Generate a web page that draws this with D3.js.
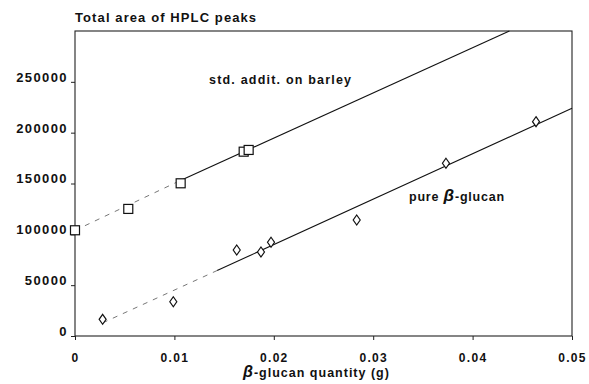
<!DOCTYPE html>
<head>
  <meta charset="utf-8">
  <script src="https://d3js.org/d3.v7.min.js"></script>
  <style>
    body { margin:0; background:#fff; }
    text { font-family: "Liberation Sans", Arial, sans-serif; font-weight: bold; fill: #111; }
  </style>
</head>

<body>
  <svg id="chart" width=589 height=384></svg>
  <script>
    // values
    const stdX = [0, 0.00536, 0.01063, 0.01697, 0.01747];
    const stdY = [104000, 125000, 150200, 181300, 183000];
    const pureX = [0.00278, 0.00989, 0.01627, 0.01871, 0.01972, 0.02834, 0.03732, 0.04638];
    const pureY = [16400, 33700, 84600, 82600, 92200, 114100, 169900, 210800];
    // fitted lines: [x, y] end points, faint (scanned) part first
    const stdFitFaint = [[0.001, 108500], [0.0105, 152500]];
    const stdFit = [[0.0105, 152500], [0.0437, 300000]];
    const pureFitFaint = [[0.0028, 13000], [0.0143, 64400]];
    const pureFit = [[0.0143, 64400], [0.05, 224000]];
    const xTicks = [0, 0.01, 0.02, 0.03, 0.04, 0.05];
    const yTicks = [0, 50000, 100000, 150000, 200000, 250000];

    const x = d3.scaleLinear().domain([0, 0.05]).range([75, 572]);
    const y = d3.scaleLinear().domain([0, 300000]).range([336, 31]);

    const svg = d3.select("#chart");

    // frame
    svg.append("rect")
      .attr("x", x(0)).attr("y", y(300000))
      .attr("width", x(0.05) - x(0)).attr("height", y(0) - y(300000))
      .attr("fill", "none").attr("stroke", "#222").attr("stroke-width", 1.1);

    // x axis
    const xAxis = svg.append("g")
      .attr("transform", `translate(0,${y(0)})`)
      .call(d3.axisBottom(x).tickValues(xTicks).tickSize(4).tickFormat(d => d === 0 ? "0" : d3.format(".2f")(d)));
    xAxis.select(".domain").remove();
    xAxis.selectAll("line").attr("stroke", "#222");
    xAxis.selectAll("text")
      .attr("dy", null).attr("y", 26)
      .style("font-size", "12px").style("letter-spacing", "1.3px")
      .style("font-family", "Liberation Sans, Arial, sans-serif").style("font-weight", "bold");

    // y axis
    const yAxis = svg.append("g")
      .attr("transform", `translate(${x(0)},0)`)
      .call(d3.axisLeft(y).tickValues(yTicks).tickSize(4).tickFormat(d3.format("d")));
    yAxis.select(".domain").remove();
    yAxis.selectAll("line").attr("stroke", "#222");
    yAxis.selectAll("text")
      .attr("x", -7).attr("dy", "-0.05em")
      .style("font-size", "13px").style("letter-spacing", "1.4px")
      .style("font-family", "Liberation Sans, Arial, sans-serif").style("font-weight", "bold");

    // fit lines
    const line = d3.line().x(d => x(d[0])).y(d => y(d[1]));
    [stdFitFaint, pureFitFaint].forEach(seg => {
      svg.append("path").attr("d", line(seg))
        .attr("fill", "none").attr("stroke", "#777").attr("stroke-width", 1)
        .attr("stroke-dasharray", "5,6");
    });
    [stdFit, pureFit].forEach(seg => {
      svg.append("path").attr("d", line(seg))
        .attr("fill", "none").attr("stroke", "#111").attr("stroke-width", 1.1);
    });

    // squares: std. addition on barley
    svg.append("g").selectAll("rect")
      .data(d3.zip(stdX, stdY))
      .join("rect")
      .attr("x", d => x(d[0]) - 4.5).attr("y", d => y(d[1]) - 4.5)
      .attr("width", 9).attr("height", 9)
      .attr("fill", "#fff").attr("stroke", "#111").attr("stroke-width", 1.2);

    // diamonds: pure beta-glucan
    svg.append("g").selectAll("path")
      .data(d3.zip(pureX, pureY))
      .join("path")
      .attr("transform", d => `translate(${x(d[0])},${y(d[1])})`)
      .attr("d", "M0,-5L3.5,0L0,5L-3.5,0Z")
      .attr("fill", "#fff").attr("stroke", "#111").attr("stroke-width", 1.2);

    // texts
    svg.append("text").attr("x", 75).attr("y", 22)
      .style("font-size", "13px").style("letter-spacing", "1.1px")
      .text("Total area of HPLC peaks");

    svg.append("text").attr("x", 209).attr("y", 84)
      .style("font-size", "12.5px").style("letter-spacing", "1.2px")
      .text("std. addit. on barley");

    const pure = svg.append("text").attr("x", 409).attr("y", 201)
      .style("font-size", "12.5px").style("letter-spacing", "0.8px");
    pure.append("tspan").text("pure ");
    pure.append("tspan").style("font-size", "17px").style("font-style", "italic").text("β");
    pure.append("tspan").text("-glucan");

    const xl = svg.append("text").attr("x", 243).attr("y", 377)
      .style("font-size", "12.5px").style("letter-spacing", "1px");
    xl.append("tspan").style("font-size", "16px").style("font-style", "italic").text("β");
    xl.append("tspan").text("-glucan quantity (g)");
  </script>
</body>
